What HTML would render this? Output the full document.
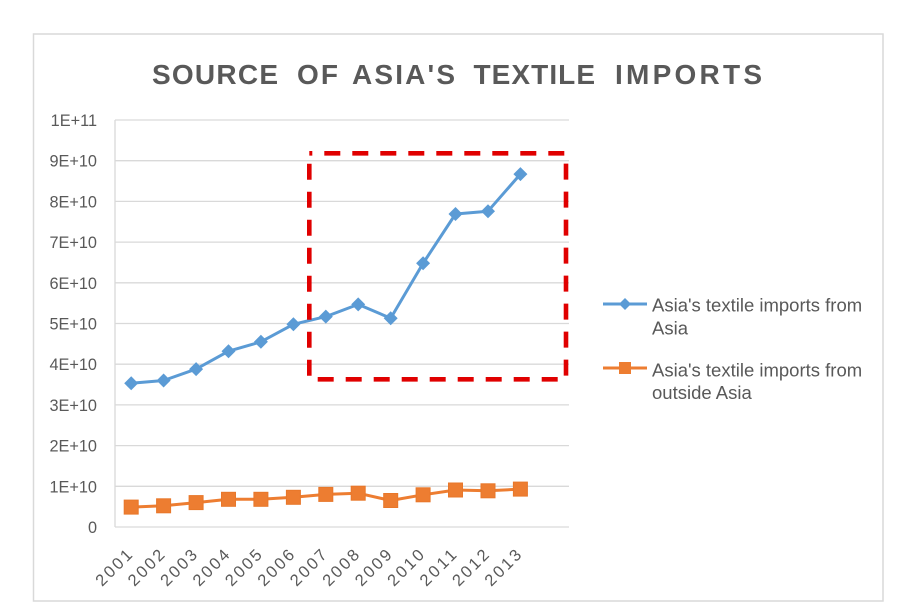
<!DOCTYPE html>
<html>
<head>
<meta charset="utf-8">
<style>
html,body{margin:0;padding:0;background:#fff;}
svg{display:block;}
text{font-family:"Liberation Sans",sans-serif;fill:#595959;}
</style>
</head>
<body>
<svg width="906" height="611" viewBox="0 0 906 611" xmlns="http://www.w3.org/2000/svg">
  <rect x="0" y="0" width="906" height="611" fill="#fff"/>
  <!-- chart border -->
  <rect x="33.5" y="34" width="849.5" height="567" fill="#fff" stroke="#d9d9d9" stroke-width="1.5"/>

  <!-- title -->
  <g font-size="28" font-weight="bold">
    <text x="152" y="84" textLength="126" lengthAdjust="spacing">SOURCE</text>
    <text x="297" y="84" textLength="41" lengthAdjust="spacing">OF</text>
    <text x="352" y="84" textLength="103" lengthAdjust="spacing">ASIA'S</text>
    <text x="473.5" y="84" textLength="121.5" lengthAdjust="spacing">TEXTILE</text>
    <text x="615" y="84" textLength="147" lengthAdjust="spacing">IMPORTS</text>
  </g>

  <!-- gridlines -->
  <g stroke="#d9d9d9" stroke-width="1.3">
    <line x1="115" y1="120" x2="569" y2="120"/>
    <line x1="115" y1="160.7" x2="569" y2="160.7"/>
    <line x1="115" y1="201.4" x2="569" y2="201.4"/>
    <line x1="115" y1="242.1" x2="569" y2="242.1"/>
    <line x1="115" y1="282.8" x2="569" y2="282.8"/>
    <line x1="115" y1="323.5" x2="569" y2="323.5"/>
    <line x1="115" y1="364.2" x2="569" y2="364.2"/>
    <line x1="115" y1="404.9" x2="569" y2="404.9"/>
    <line x1="115" y1="445.6" x2="569" y2="445.6"/>
    <line x1="115" y1="486.3" x2="569" y2="486.3"/>
    <line x1="115" y1="527" x2="569" y2="527"/>
    <line x1="115" y1="120" x2="115" y2="527"/>
  </g>

  <!-- y labels -->
  <g font-size="16.3" text-anchor="end">
    <text x="97" y="126">1E+11</text>
    <text x="97" y="166.7">9E+10</text>
    <text x="97" y="207.4">8E+10</text>
    <text x="97" y="248.1">7E+10</text>
    <text x="97" y="288.8">6E+10</text>
    <text x="97" y="329.5">5E+10</text>
    <text x="97" y="370.2">4E+10</text>
    <text x="97" y="410.9">3E+10</text>
    <text x="97" y="451.6">2E+10</text>
    <text x="97" y="492.3">1E+10</text>
    <text x="97" y="533">0</text>
  </g>

  <!-- x labels -->
  <g font-size="16.5">
    <text transform="translate(133.2,556) rotate(-45)" text-anchor="end" textLength="44" lengthAdjust="spacing">2001</text>
    <text transform="translate(165.6,556) rotate(-45)" text-anchor="end" textLength="44" lengthAdjust="spacing">2002</text>
    <text transform="translate(198.1,556) rotate(-45)" text-anchor="end" textLength="44" lengthAdjust="spacing">2003</text>
    <text transform="translate(230.5,556) rotate(-45)" text-anchor="end" textLength="44" lengthAdjust="spacing">2004</text>
    <text transform="translate(262.9,556) rotate(-45)" text-anchor="end" textLength="44" lengthAdjust="spacing">2005</text>
    <text transform="translate(295.4,556) rotate(-45)" text-anchor="end" textLength="44" lengthAdjust="spacing">2006</text>
    <text transform="translate(327.8,556) rotate(-45)" text-anchor="end" textLength="44" lengthAdjust="spacing">2007</text>
    <text transform="translate(360.2,556) rotate(-45)" text-anchor="end" textLength="44" lengthAdjust="spacing">2008</text>
    <text transform="translate(392.7,556) rotate(-45)" text-anchor="end" textLength="44" lengthAdjust="spacing">2009</text>
    <text transform="translate(425.1,556) rotate(-45)" text-anchor="end" textLength="44" lengthAdjust="spacing">2010</text>
    <text transform="translate(457.5,556) rotate(-45)" text-anchor="end" textLength="44" lengthAdjust="spacing">2011</text>
    <text transform="translate(490.0,556) rotate(-45)" text-anchor="end" textLength="44" lengthAdjust="spacing">2012</text>
    <text transform="translate(522.4,556) rotate(-45)" text-anchor="end" textLength="44" lengthAdjust="spacing">2013</text>
  </g>

  <!-- orange series -->
  <polyline fill="none" stroke="#ed7d31" stroke-width="3" stroke-linejoin="round"
    points="131.2,507.1 163.6,505.8 196.1,502.6 228.5,499.3 260.9,499.3 293.4,497.3 325.8,494.4 358.2,493.2 390.7,500.5 423.1,494.8 455.5,490.0 488.0,490.8 520.4,489.1"/>
  <g fill="#ed7d31" stroke="#e8772a" stroke-width="1">
    <rect x="124.2" y="500.1" width="14" height="14"/>
    <rect x="156.6" y="498.8" width="14" height="14"/>
    <rect x="189.1" y="495.6" width="14" height="14"/>
    <rect x="221.5" y="492.3" width="14" height="14"/>
    <rect x="253.9" y="492.3" width="14" height="14"/>
    <rect x="286.4" y="490.3" width="14" height="14"/>
    <rect x="318.8" y="487.4" width="14" height="14"/>
    <rect x="351.2" y="486.2" width="14" height="14"/>
    <rect x="383.7" y="493.5" width="14" height="14"/>
    <rect x="416.1" y="487.8" width="14" height="14"/>
    <rect x="448.5" y="483.0" width="14" height="14"/>
    <rect x="481.0" y="483.8" width="14" height="14"/>
    <rect x="513.4" y="482.1" width="14" height="14"/>
  </g>

  <!-- blue series -->
  <polyline fill="none" stroke="#5b9bd5" stroke-width="3" stroke-linejoin="round"
    points="131.2,383.3 163.6,380.5 196.1,369.1 228.5,351.2 260.9,341.8 293.4,324.3 325.8,316.6 358.2,304.4 390.7,318.2 423.1,263.3 455.5,214.0 488.0,211.2 520.4,174.1"/>
  <g fill="#5b9bd5">
    <path d="M131.2,376.3 l7,7 l-7,7 l-7,-7z"/>
    <path d="M163.6,373.5 l7,7 l-7,7 l-7,-7z"/>
    <path d="M196.1,362.1 l7,7 l-7,7 l-7,-7z"/>
    <path d="M228.5,344.2 l7,7 l-7,7 l-7,-7z"/>
    <path d="M260.9,334.8 l7,7 l-7,7 l-7,-7z"/>
    <path d="M293.4,317.3 l7,7 l-7,7 l-7,-7z"/>
    <path d="M325.8,309.6 l7,7 l-7,7 l-7,-7z"/>
    <path d="M358.2,297.4 l7,7 l-7,7 l-7,-7z"/>
    <path d="M390.7,311.2 l7,7 l-7,7 l-7,-7z"/>
    <path d="M423.1,256.3 l7,7 l-7,7 l-7,-7z"/>
    <path d="M455.5,207.0 l7,7 l-7,7 l-7,-7z"/>
    <path d="M488.0,204.2 l7,7 l-7,7 l-7,-7z"/>
    <path d="M520.4,167.1 l7,7 l-7,7 l-7,-7z"/>
  </g>

  <!-- red dashed box -->
  <rect x="309.3" y="153.3" width="256.7" height="226" fill="none" stroke="#e00000" stroke-width="4.6" stroke-dasharray="16 12" stroke-dashoffset="-15"/>

  <!-- legend -->
  <line x1="603" y1="304" x2="647" y2="304" stroke="#5b9bd5" stroke-width="3"/>
  <path d="M625,298 l6,6 l-6,6 l-6,-6z" fill="#5b9bd5"/>
  <line x1="603" y1="368" x2="647" y2="368" stroke="#ed7d31" stroke-width="3"/>
  <rect x="619" y="362" width="12" height="12" fill="#ed7d31"/>
  <g font-size="18.5">
    <text x="652" y="311.5">Asia's textile imports from</text>
    <text x="652" y="334.5">Asia</text>
    <text x="652" y="376.5">Asia's textile imports from</text>
    <text x="652" y="399">outside Asia</text>
  </g>
</svg>
</body>
</html>
